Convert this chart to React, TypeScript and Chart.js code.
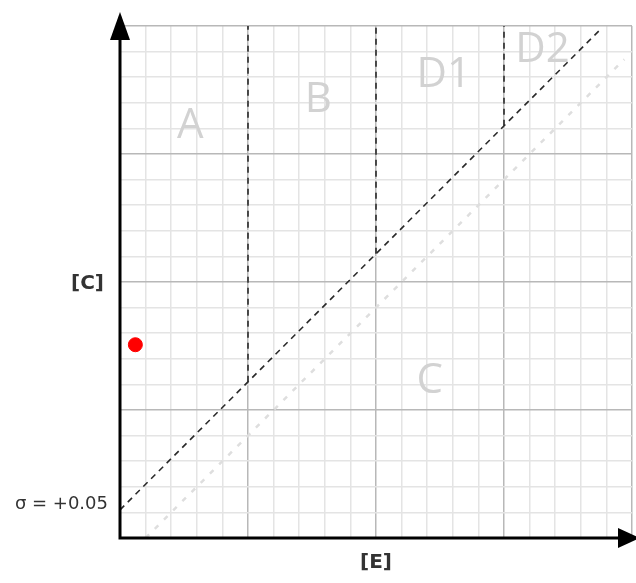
import React, { useEffect, useRef } from "react";
import { Chart, registerables } from "chart.js";

Chart.register(...registerables);

// Data (units: minor grid cells; major every 5)
const xRange = [0, 20];
const yRange = [0, 20];
const mainDiagonal = [
  { x: 0, y: 1.1 },
  { x: 18.8, y: 19.9 },
];
const lightDiagonal = [
  { x: 1.0, y: 0 },
  { x: 19.7, y: 18.7 },
];
const boundaryX = [5, 10, 15];
const boundaryBottomY = [6.1, 11.1, 16.1];
const boundaryTopY = 20;
const redPoint = [{ x: 0.6, y: 7.55 }];
const regionNames = ["A", "B", "D1", "D2", "C"];
const regionX = [2.75, 7.75, 12.65, 16.5, 12.1];
const regionY = [16.1, 17.1, 18.1, 19.05, 6.15];
const yAxisLabel = "[C]";
const xAxisLabel = "[E]";
const interceptLabel = "σ = +0.05";
const interceptY = 1.3;

export default function App() {
  const ref = useRef<HTMLCanvasElement | null>(null);
  useEffect(() => {
    if (!ref.current) return;
    const boundaryDatasets = boundaryX.map((bx, i) => ({
      type: "line" as const,
      data: [
        { x: bx, y: boundaryBottomY[i] },
        { x: bx, y: boundaryTopY },
      ],
      borderColor: "#2a2a2a",
      borderWidth: 1.6,
      borderDash: [6, 5],
      pointRadius: 0,
      fill: false,
    }));
    const overlay = {
      id: "overlay",
      beforeDatasetsDraw(chart: any) {
        const { ctx, scales } = chart;
        const xs = scales.x;
        const ys = scales.y;
        ctx.save();
        ctx.fillStyle = "#d2d2d2";
        ctx.font = "42px 'Open Sans', 'DejaVu Sans', sans-serif";
        ctx.textAlign = "center";
        ctx.textBaseline = "middle";
        regionNames.forEach((n, i) => {
          ctx.fillText(n, xs.getPixelForValue(regionX[i]), ys.getPixelForValue(regionY[i]));
        });
        ctx.restore();
      },
      afterDraw(chart: any) {
        const { ctx, scales } = chart;
        const xs = scales.x;
        const ys = scales.y;
        const x0 = xs.getPixelForValue(xRange[0]);
        const y0 = ys.getPixelForValue(yRange[0]);
        ctx.save();
        ctx.strokeStyle = "#000";
        ctx.fillStyle = "#000";
        ctx.lineWidth = 3;
        ctx.beginPath();
        ctx.moveTo(x0, y0 + 1.5);
        ctx.lineTo(x0, 38);
        ctx.moveTo(x0 - 1.5, y0);
        ctx.lineTo(chart.width - 18, y0);
        ctx.stroke();
        // arrow up
        ctx.beginPath();
        ctx.moveTo(x0, 12);
        ctx.lineTo(x0 - 10, 40);
        ctx.lineTo(x0 + 10, 40);
        ctx.closePath();
        ctx.fill();
        // arrow right
        ctx.beginPath();
        ctx.moveTo(chart.width + 4, y0);
        ctx.lineTo(chart.width - 18, y0 - 10);
        ctx.lineTo(chart.width - 18, y0 + 10);
        ctx.closePath();
        ctx.fill();
        // labels
        ctx.fillStyle = "#333";
        ctx.font = "bold 20px 'DejaVu Sans', sans-serif";
        ctx.textAlign = "right";
        ctx.textBaseline = "middle";
        ctx.fillText(yAxisLabel, x0 - 16, ys.getPixelForValue(10) + 2);
        ctx.textAlign = "center";
        ctx.fillText(xAxisLabel, xs.getPixelForValue(10), y0 + 25);
        ctx.font = "18px 'DejaVu Sans', sans-serif";
        ctx.textAlign = "right";
        ctx.fillText(interceptLabel, x0 - 12, ys.getPixelForValue(interceptY));
        ctx.restore();
      },
    };
    const gridColor = (c: any) => (c.tick && c.tick.value % 5 === 0 ? "#b8b8b8" : "#e4e4e4");
    const chart = new Chart(ref.current, {
      type: "scatter",
      data: {
        datasets: [
          {
            type: "line" as const,
            data: lightDiagonal,
            borderColor: "#dedede",
            borderWidth: 2.5,
            borderDash: [5, 8],
            pointRadius: 0,
            fill: false,
          },
          {
            type: "line" as const,
            data: mainDiagonal,
            borderColor: "#2a2a2a",
            borderWidth: 1.6,
            borderDash: [6, 5],
            pointRadius: 0,
            fill: false,
          },
          ...boundaryDatasets,
          {
            type: "scatter" as const,
            data: redPoint,
            backgroundColor: "#ff0000",
            borderColor: "#ff0000",
            pointRadius: 7,
          },
        ] as any,
      },
      options: {
        animation: false,
        responsive: false,
        layout: { autoPadding: false, padding: { left: 120, top: 26, right: 4, bottom: 45 } },
        plugins: { legend: { display: false }, tooltip: { enabled: false } },
        scales: {
          x: {
            type: "linear",
            min: xRange[0],
            max: xRange[1],
            ticks: { display: false, stepSize: 1 },
            border: { display: false },
            grid: { drawTicks: false, color: gridColor, lineWidth: 1.5 },
          },
          y: {
            type: "linear",
            min: yRange[0],
            max: yRange[1],
            ticks: { display: false, stepSize: 1 },
            border: { display: false },
            grid: { drawTicks: false, color: gridColor, lineWidth: 1.5 },
          },
        },
      },
      plugins: [overlay],
    });
    return () => chart.destroy();
  }, []);
  return (
    <div style={{ position: "fixed", left: 0, top: 0, background: "#fff" }}>
      <canvas ref={ref} width={636} height={583} style={{ display: "block" }} />
    </div>
  );
}
